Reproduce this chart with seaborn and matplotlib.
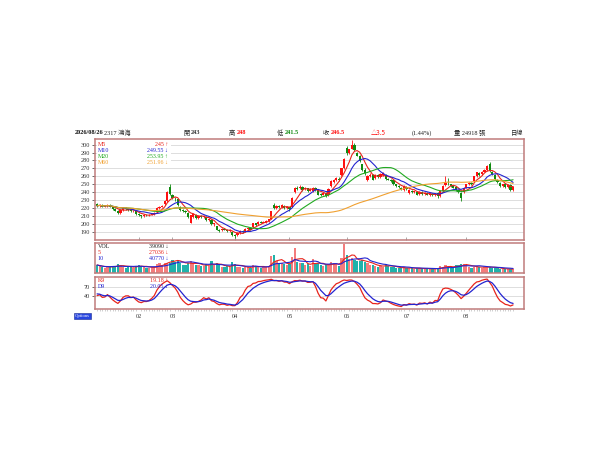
import numpy as np
import pandas as pd
import matplotlib
matplotlib.use('Agg')
import matplotlib.pyplot as plt
import seaborn as sns
from matplotlib.patches import Rectangle

# 日K資料 (2317 鴻海), 讀自圖
opens = [225, 223, 224, 222, 223, 224, 222, 219, 217, 214,
         218, 220, 219, 218, 216, 216, 213, 211, 210, 212,
         211, 212, 213, 215, 220, 222, 225, 229, 247, 236,
         232, 231, 222, 218, 217, 214, 202, 209, 212, 208,
         210, 209, 209, 205, 205, 200, 197, 193, 192, 194,
         193, 191, 190, 186, 186, 189, 191, 191, 194, 195,
         196, 201, 200, 203, 202, 203, 204, 207, 224, 220,
         223, 221, 223, 220, 221, 222, 240, 246, 245, 247,
         244, 245, 242, 241, 246, 243, 238, 237, 239, 236,
         248, 253, 255, 257, 262, 270, 296, 290, 295, 300,
         290, 286, 275, 268, 256, 261, 262, 258, 262, 259,
         262, 262, 257, 256, 255, 250, 248, 246, 243, 247,
         239, 242, 240, 240, 238, 240, 238, 239, 237, 238,
         236, 239, 235, 242, 249, 251, 250, 248, 247, 243,
         239, 240, 246, 250, 252, 254, 260, 264, 263, 266,
         268, 276, 266, 262, 256, 252, 248, 250, 247, 249,
         243]
highs = [226, 225, 225, 224, 225, 225, 223, 220, 218, 219,
         221, 221, 220, 219, 218, 217, 214, 212, 213, 213,
         213, 214, 215, 221, 223, 224, 230, 241, 250, 238,
         234, 232, 223, 219, 218, 215, 212, 214, 213, 211,
         211, 211, 210, 208, 206, 202, 198, 194, 195, 195,
         194, 194, 191, 187, 190, 192, 192, 195, 196, 196,
         202, 202, 204, 204, 204, 205, 207, 217, 226, 224,
         224, 225, 224, 223, 222, 234, 247, 248, 249, 248,
         247, 246, 245, 247, 247, 244, 239, 240, 240, 245,
         255, 257, 259, 259, 271, 283, 298, 295, 306, 302,
         291, 287, 276, 270, 262, 264, 263, 263, 263, 264,
         265, 263, 258, 257, 256, 251, 249, 247, 249, 248,
         244, 243, 242, 241, 241, 241, 240, 240, 239, 239,
         239, 240, 243, 249, 260, 258, 251, 249, 248, 244,
         240, 247, 251, 253, 253, 261, 266, 265, 267, 269,
         274, 278, 267, 263, 257, 253, 251, 251, 250, 250,
         248]
lows = [222, 222, 221, 221, 222, 221, 218, 216, 213, 213,
        217, 218, 217, 215, 215, 212, 210, 208, 209, 210,
        210, 211, 212, 214, 219, 221, 224, 228, 237, 232,
        229, 223, 217, 215, 214, 208, 201, 208, 207, 207,
        208, 208, 204, 204, 199, 198, 192, 190, 191, 192,
        190, 190, 185, 183, 185, 188, 189, 190, 193, 192,
        195, 198, 199, 201, 201, 202, 203, 206, 219, 219,
        220, 220, 219, 219, 217, 221, 239, 243, 244, 242,
        243, 240, 241, 240, 242, 236, 235, 236, 234, 235,
        247, 252, 254, 254, 261, 269, 287, 288, 294, 292,
        285, 278, 267, 262, 254, 259, 255, 257, 258, 258,
        261, 256, 255, 253, 249, 247, 246, 243, 242, 243,
        238, 239, 239, 236, 237, 237, 236, 236, 235, 235,
        235, 233, 234, 241, 248, 249, 247, 245, 242, 239,
        229, 239, 245, 249, 249, 253, 259, 261, 262, 265,
        267, 266, 262, 256, 252, 247, 247, 246, 246, 242,
        241.5]
closes = [223, 224, 222, 223, 224, 222, 219, 217, 214, 218,
          220, 219, 218, 216, 217, 213, 211, 210, 212, 211,
          212, 213, 214, 220, 222, 223, 229, 240, 238, 233,
          231, 224, 218, 217, 215, 209, 211, 213, 208, 210,
          209, 210, 205, 207, 200, 201, 193, 191, 194, 193,
          191, 193, 186, 185, 189, 191, 190, 194, 195, 193,
          201, 199, 203, 202, 203, 204, 206, 216, 220, 223,
          221, 224, 220, 222, 219, 233, 246, 244, 247, 243,
          245, 241, 244, 246, 243, 237, 236, 239, 235, 244,
          254, 255, 258, 256, 270, 282, 289, 294, 300, 293,
          286, 279, 268, 264, 261, 262, 256, 262, 259, 263,
          264, 257, 256, 254, 250, 248, 247, 244, 248, 244,
          243, 240, 241, 237, 240, 238, 239, 237, 238, 236,
          238, 235, 242, 248, 252, 250, 248, 246, 243, 240,
          233, 246, 250, 252, 250, 260, 265, 262, 266, 268,
          273, 267, 263, 257, 253, 248, 250, 247, 249, 243,
          246.5]
volumes = [52000, 44000, 38000, 35000, 41000, 38000, 48000, 45000, 56000, 50000,
           40000, 35000, 38000, 44000, 34000, 48000, 50000, 45000, 38000, 35000,
           33000, 38000, 35000, 56000, 62000, 50000, 70000, 80000, 88000, 82000,
           72000, 85000, 66000, 55000, 52000, 66000, 78000, 62000, 55000, 50000,
           48000, 45000, 60000, 48000, 75000, 54000, 62000, 50000, 42000, 36000,
           44000, 40000, 70000, 58000, 42000, 37000, 35000, 40000, 37000, 33000,
           55000, 44000, 40000, 35000, 38000, 42000, 48000, 110000, 120000, 75000,
           62000, 68000, 58000, 52000, 60000, 105000, 160000, 72000, 66000, 62000,
           52000, 56000, 46000, 92000, 60000, 66000, 52000, 44000, 50000, 56000,
           72000, 62000, 56000, 46000, 95000, 190000, 115000, 90000, 95000, 85000,
           80000, 75000, 85000, 70000, 65000, 55000, 50000, 45000, 40000, 48000,
           42000, 58000, 45000, 38000, 40000, 35000, 32000, 30000, 38000, 30000,
           35000, 30000, 28000, 32000, 30000, 26000, 28000, 30000, 25000, 27000,
           28000, 32000, 45000, 42000, 50000, 40000, 35000, 32000, 55000, 52000,
           60000, 58000, 50000, 38000, 35000, 42000, 45000, 36000, 34000, 38000,
           40000, 42000, 35000, 32000, 30000, 28000, 26000, 24000, 26000, 28000,
           24918]

month_idx = [16, 29, 53, 74, 96, 119, 142]
month_labels = ['02', '03', '04', '05', '06', '07', '08']
price_ticks = list(range(190, 301, 10))
kd_ticks = [40, 70]

ma_names = ['M5', 'M10', 'M20', 'M60']
ma_texts = ['245 ↑', '249.55 ↓', '253.95 ↑', '251.96 ↓']
vol_names = ['VOL', '5', '10']
vol_texts = ['39090 ↓', '27036 ↓', '40770 ↓']
kd_names = ['K9', 'D9']
kd_texts = ['19.18 ↑', '20.05 ↓']

# 計算均線與KD
df = pd.DataFrame({'open': opens, 'high': highs, 'low': lows,
                   'close': closes, 'vol': volumes})
df['i'] = np.arange(len(df))
for n in [5, 10, 20, 60]:
    df['ma%d' % n] = df['close'].rolling(n, min_periods=1).mean()
df['v5'] = df['vol'].rolling(5, min_periods=1).mean()
df['v10'] = df['vol'].rolling(10, min_periods=1).mean()
ll = df['low'].rolling(9, min_periods=1).min()
hh = df['high'].rolling(9, min_periods=1).max()
rsv = ((df['close'] - ll) / (hh - ll) * 100).fillna(50)
k_list, d_list = [], []
k, d = 50.0, 50.0
for r in rsv:
    k = k * 2 / 3 + r / 3
    d = d * 2 / 3 + k / 3
    k_list.append(k)
    d_list.append(d)
df['K'] = k_list
df['D'] = d_list

sns.set_theme(style='white')
plt.rcParams['font.family'] = ['Liberation Serif', 'Noto Sans CJK TC', 'DejaVu Sans']

W, H = 600, 450
fig = plt.figure(figsize=(6, 4.5), dpi=100)


def box(l, t, r, b):
    return [l / W, 1 - b / H, (r - l) / W, (b - t) / H]


def fx(x):
    return x / W


def fy(y):
    return 1 - y / H


frame_color = '#c07c7c'
up_c, dn_c = '#ff1010', '#108a10'
ax1 = fig.add_axes(box(95, 139, 524, 240))
ax2 = fig.add_axes(box(95, 243, 524, 273))
ax3 = fig.add_axes(box(95, 277, 524, 309))

up = df['close'] >= df['open']
cols = np.where(up, up_c, dn_c)

# K線
ax1.vlines(df['i'], df['low'], df['high'], colors=cols, linewidth=0.6, zorder=2)
body = (df['close'] - df['open']).abs().clip(lower=0.6)
ax1.bar(df['i'], body, bottom=df[['open', 'close']].min(axis=1),
        width=0.8, color=cols, linewidth=0, zorder=2)
ma_colors = ['#e8241c', '#2424d0', '#22aa22', '#f0a030']
for n, c in zip([5, 10, 20, 60], ma_colors):
    sns.lineplot(x=df['i'], y=df['ma%d' % n], ax=ax1, color=c,
                 linewidth=0.8, legend=False, zorder=3)
ax1.set_ylim(180, 307)
ax1.set_yticks(price_ticks)
ax1.yaxis.grid(True, color='#d8d8d8', linewidth=0.6)
ax1.set_axisbelow(True)

# 成交量
vcols = np.where(up, '#f47c7c', '#20b2aa')
ax2.bar(df['i'], df['vol'], width=0.8, color=vcols, linewidth=0, zorder=2)
sns.lineplot(x=df['i'], y=df['v5'], ax=ax2, color='#e8241c', linewidth=0.8,
             legend=False, zorder=3)
sns.lineplot(x=df['i'], y=df['v10'], ax=ax2, color='#2424d0', linewidth=0.8,
             legend=False, zorder=3)
ax2.set_ylim(0, 195000)
ax2.set_yticks([])

# KD
sns.lineplot(x=df['i'], y=df['K'], ax=ax3, color='#e8241c', linewidth=0.9,
             legend=False, zorder=3)
sns.lineplot(x=df['i'], y=df['D'], ax=ax3, color='#2424d0', linewidth=0.9,
             legend=False, zorder=3)
ax3.set_ylim(0, 100)
ax3.set_yticks(kd_ticks)
ax3.yaxis.grid(True, color='#d8d8d8', linewidth=0.6)
ax3.set_axisbelow(True)

for ax in [ax1, ax2, ax3]:
    ax.set_xlim(-0.8, 164.2)
    ax.set_xlabel('')
    ax.set_ylabel('')
    for s in ax.spines.values():
        s.set_color(frame_color)
        s.set_linewidth(1.1)
    ax.tick_params(axis='y', labelsize=4.5, length=2, width=0.5, pad=1.5,
                   colors='#333333', left=True)
    ax.set_xticks(month_idx)
    ax.tick_params(axis='x', direction='in', length=2, width=0.5,
                   color='#888888', labelbottom=False, bottom=True)

ax3.set_xticks(month_idx, month_labels)
ax3.set_xticks(np.arange(0, 161), minor=True)
ax3.tick_params(axis='x', which='major', labelbottom=True, labelsize=4.5,
                direction='out', length=0, pad=3.5, labelcolor='#333333')
ax3.tick_params(axis='x', which='minor', direction='out', length=1.5,
                width=0.4, color='#aaaaaa', bottom=True)

# 圖例
ax1.add_patch(Rectangle((fx(96.5), fy(166)), fx(74), 25 / H,
                        transform=fig.transFigure, facecolor='white',
                        edgecolor='none', zorder=2.5))
ax2.add_patch(Rectangle((fx(96.5), fy(263)), fx(74), 19 / H,
                        transform=fig.transFigure, facecolor='white',
                        edgecolor='none', zorder=2.5))
for j, (nm, tx, c) in enumerate(zip(ma_names, ma_texts, ma_colors)):
    yy = fy(144.5 + j * 6)
    fig.text(fx(97.5), yy, nm, color=c, fontsize=4.3, va='center')
    fig.text(fx(168), yy, tx, color=c, fontsize=4.3, va='center', ha='right')
for j, (nm, tx, c) in enumerate(zip(vol_names, vol_texts,
                                    ['#222222', '#e8241c', '#2424d0'])):
    yy = fy(246.5 + j * 6)
    fig.text(fx(97.5), yy, nm, color=c, fontsize=4.3, va='center')
    fig.text(fx(168), yy, tx, color=c, fontsize=4.3, va='center', ha='right')
for j, (nm, tx, c) in enumerate(zip(kd_names, kd_texts,
                                    ['#e8241c', '#2424d0'])):
    yy = fy(280 + j * 6)
    fig.text(fx(97.5), yy, nm, color=c, fontsize=4.3, va='center')
    fig.text(fx(168), yy, tx, color=c, fontsize=4.3, va='center', ha='right')

# 標題列
hy = fy(133)
fig.text(fx(75), hy, '2026/08/26', fontsize=4.5, fontweight='bold',
         va='center', color='#111111')
fig.text(fx(104), hy, '2317 鴻海', fontsize=4.5, va='center', color='#222222')
header = [(183, '開', '243', '#333333'), (229, '高', '248', '#ff1010'),
          (277, '低', '241.5', '#108a10'), (323, '收', '246.5', '#ff1010')]
for x0, lab, val, c in header:
    fig.text(fx(x0), hy, lab, fontsize=4.5, va='center', color='#222222')
    fig.text(fx(x0 + 8), hy, val, fontsize=4.5, va='center', color=c,
             fontweight='bold')
fig.text(fx(371), hy, '△3.5', fontsize=4.5, va='center', color='#ff1010',
         family=['Noto Sans CJK TC', 'DejaVu Sans'])
fig.text(fx(412), hy, '(1.44%)', fontsize=4.5, va='center', color='#222222')
fig.text(fx(454), hy, '量 24918 張', fontsize=4.5, va='center', color='#222222')
fig.text(fx(511), hy, '日線', fontsize=4.5, va='center', color='#222222')

# Options 按鈕
fig.patches.append(Rectangle((fx(74), fy(319)), fx(17), 6 / H,
                             transform=fig.transFigure, facecolor='#2846e0',
                             edgecolor='#1a2a90', linewidth=0.4))
fig.text(fx(82.5), fy(316), 'Options', fontsize=3.3, color='white',
         ha='center', va='center')

fig.savefig('out.png', dpi=100)
